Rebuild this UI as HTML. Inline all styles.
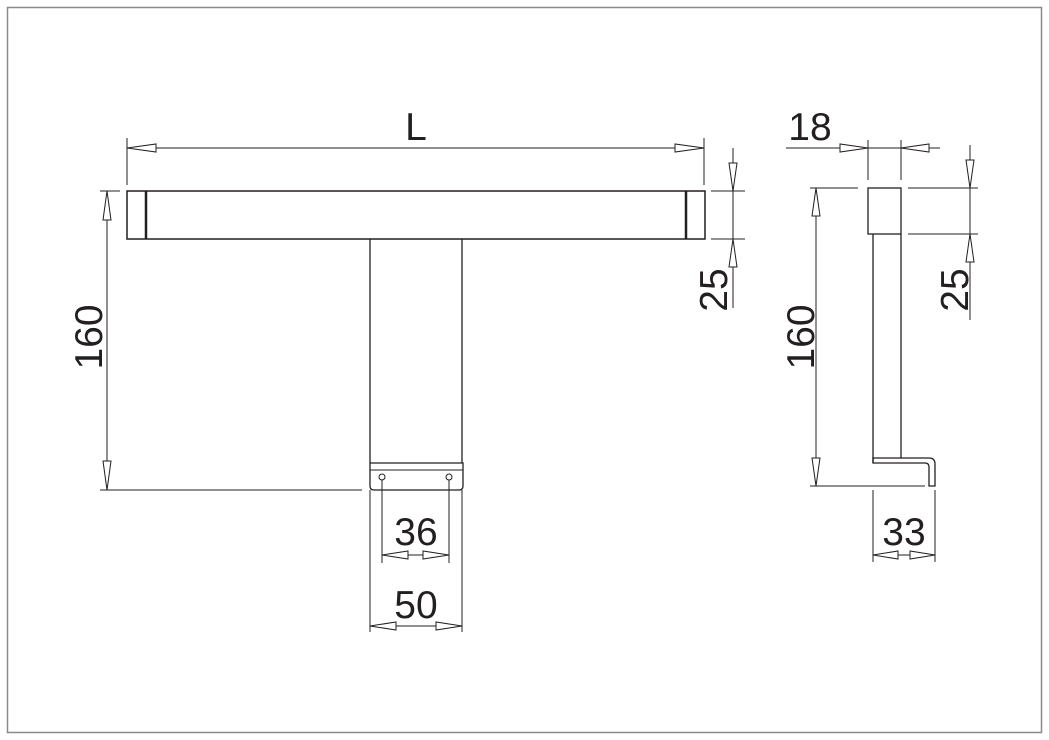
<!DOCTYPE html>
<html><head><meta charset="utf-8"><style>
html,body{margin:0;padding:0;background:#fff}
svg{display:block}
text{font-family:"Liberation Sans",Arial,sans-serif;fill:#231f20}
</style></head><body>
<svg width="1049" height="740" viewBox="0 0 1049 740" xmlns="http://www.w3.org/2000/svg">
<rect x="7.5" y="7.5" width="1034" height="725" fill="#fff" stroke="#8a8a8a" stroke-width="1.5"/>
<g stroke="#231f20" stroke-width="1" fill="none">
<rect x="127" y="191" width="578" height="48" stroke-width="1.5"/>
<line x1="146" y1="191" x2="146" y2="239" stroke-width="2.5"/>
<line x1="686" y1="191" x2="686" y2="239" stroke-width="2.5"/>
<line x1="370" y1="239" x2="370" y2="463" stroke-width="1.3"/>
<line x1="462" y1="239" x2="462" y2="463" stroke-width="1.3"/>
<path d="M370 463 H463 V486 Q463 490 459 490 H374 Q370 490 370 486 Z" stroke-width="1.3"/>
<line x1="370" y1="470" x2="463" y2="470"/>
<circle cx="382" cy="477" r="3"/><circle cx="449" cy="477" r="3"/>
<line x1="127" y1="138" x2="127" y2="185"/><line x1="704" y1="138" x2="704" y2="185"/>
<line x1="127" y1="148" x2="704" y2="148"/>
<line x1="100" y1="191" x2="120" y2="191"/><line x1="100" y1="490" x2="362" y2="490"/>
<line x1="107" y1="191" x2="107" y2="490"/>
<line x1="711" y1="191" x2="745" y2="191"/><line x1="711" y1="239" x2="745" y2="239"/>
<line x1="733" y1="148" x2="733" y2="308"/>
<line x1="382" y1="480" x2="382" y2="563"/><line x1="449" y1="480" x2="449" y2="563"/>
<line x1="382" y1="555" x2="449" y2="555"/>
<line x1="370" y1="490" x2="370" y2="632"/><line x1="462" y1="490" x2="462" y2="632"/>
<line x1="370" y1="626" x2="462" y2="626"/>
<rect x="868" y="188" width="33" height="46" stroke-width="1.3"/>
<line x1="873" y1="234" x2="873" y2="463" stroke-width="1.3"/>
<line x1="901" y1="234" x2="901" y2="458" stroke-width="1.3"/>
<path d="M873 463 V458 H929 Q935 458 935 464 V486 H929 V467 Q929 463 925 463 Z" stroke-width="1.3"/>
<line x1="810" y1="188" x2="858" y2="188"/><line x1="810" y1="486" x2="925" y2="486"/>
<line x1="816" y1="188" x2="816" y2="486"/>
<line x1="868" y1="140" x2="868" y2="180"/><line x1="901" y1="140" x2="901" y2="180"/>
<line x1="786" y1="148" x2="940" y2="148"/>
<line x1="908" y1="188" x2="978" y2="188"/><line x1="908" y1="234" x2="978" y2="234"/>
<line x1="970" y1="145" x2="970" y2="320"/>
<line x1="873" y1="490" x2="873" y2="562"/><line x1="935" y1="490" x2="935" y2="562"/>
<line x1="873" y1="555" x2="935" y2="555"/>
</g>
<g stroke="#231f20" stroke-width="1" fill="#fff">
<polygon points="127,148 156,144 156,152"/>
<polygon points="704,148 675,144 675,152"/>
<polygon points="107,191 103,220 111,220"/>
<polygon points="107,490 103,461 111,461"/>
<polygon points="733,191 729,163 737,163"/>
<polygon points="733,239 729,267 737,267"/>
<polygon points="382,555 408,551 408,559"/>
<polygon points="449,555 423,551 423,559"/>
<polygon points="370,626 396,622 396,630"/>
<polygon points="462,626 436,622 436,630"/>
<polygon points="816,188 812,216 820,216"/>
<polygon points="816,486 812,458 820,458"/>
<polygon points="868,148 840,144 840,152"/>
<polygon points="901,148 929,144 929,152"/>
<polygon points="970,188 966,160 974,160"/>
<polygon points="970,234 966,262 974,262"/>
<polygon points="873,555 898,551 898,559"/>
<polygon points="935,555 910,551 910,559"/>
</g>
<g font-size="39">
<text x="416" y="140" text-anchor="middle">L</text>
<text x="416" y="545" text-anchor="middle">36</text>
<text x="416" y="618" text-anchor="middle">50</text>
<text x="810" y="140" text-anchor="middle">18</text>
<text x="904" y="545" text-anchor="middle">33</text>
<text transform="translate(102,337) rotate(-90)" text-anchor="middle">160</text>
<text transform="translate(727,290) rotate(-90)" text-anchor="middle">25</text>
<text transform="translate(814,337) rotate(-90)" text-anchor="middle">160</text>
<text transform="translate(968,290) rotate(-90)" text-anchor="middle">25</text>
</g>
</svg>
</body></html>
